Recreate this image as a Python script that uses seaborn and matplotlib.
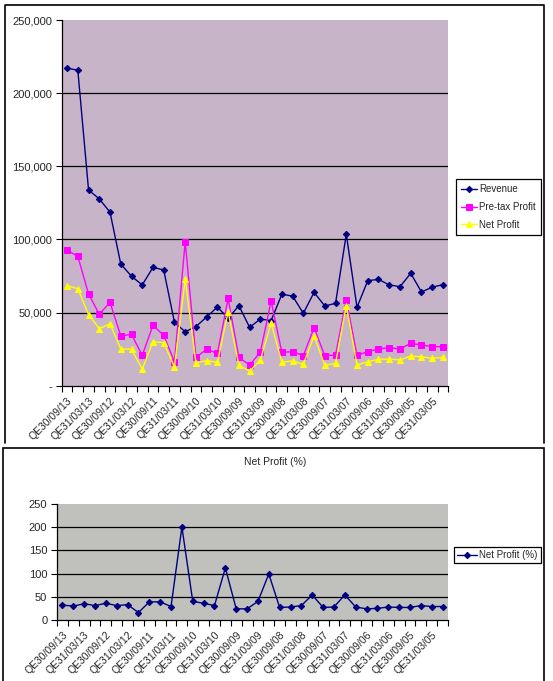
import numpy as np
import pandas as pd
import seaborn as sns
import matplotlib
matplotlib.use("Agg")
import matplotlib.pyplot as plt
from matplotlib.lines import Line2D
from matplotlib.patches import Rectangle
from matplotlib.ticker import FuncFormatter, FixedLocator

quarters = ["QE30/09/13", "QE30/06/13", "QE31/03/13",
            "QE31/12/12", "QE30/09/12", "QE30/06/12", "QE31/03/12",
            "QE31/12/11", "QE30/09/11", "QE30/06/11", "QE31/03/11",
            "QE31/12/10", "QE30/09/10", "QE30/06/10", "QE31/03/10",
            "QE31/12/09", "QE30/09/09", "QE30/06/09", "QE31/03/09",
            "QE31/12/08", "QE30/09/08", "QE30/06/08", "QE31/03/08",
            "QE31/12/07", "QE30/09/07", "QE30/06/07", "QE31/03/07",
            "QE31/12/06", "QE30/09/06", "QE30/06/06", "QE31/03/06",
            "QE31/12/05", "QE30/09/05", "QE30/06/05", "QE31/03/05",
            "QE31/12/04"]

revenue = [217000, 215700, 133800, 127700, 118600, 83200, 74800, 68900, 80900, 79100,
           43300, 36900, 40400, 47000, 53800, 46100, 54700, 39900, 45600, 44500,
           62500, 61300, 49500, 63800, 54500, 56300, 103500, 53600, 71800, 72700,
           68900, 67700, 76800, 64100, 67300, 69100]
pretax = [92600, 88500, 62700, 48800, 57000, 34000, 35100, 20700, 41300, 34400,
          16400, 98500, 19400, 24900, 22100, 59700, 19400, 14100, 23000, 57900,
          22800, 23300, 20500, 39700, 20500, 21000, 58600, 20700, 23300, 25100,
          26000, 25100, 29000, 27800, 26700, 26700]
netprofit = [68400, 66300, 48600, 39000, 42400, 25100, 24900, 11400, 30100, 29400,
             12800, 72700, 15500, 17100, 16000, 50600, 13900, 10000, 17600, 42600,
             16000, 16900, 14600, 34000, 13900, 15300, 54700, 14100, 16400, 18000,
             18200, 17600, 20300, 19800, 18700, 19400]
netpct = [32, 30, 35, 31, 36, 31, 33, 16, 39, 39,
          29, 200, 40, 36, 31, 112, 24, 24, 40, 99,
          27, 28, 31, 54, 27, 28, 54, 28, 24, 25,
          28, 27, 27, 31, 29, 29]

top_yticks = [0, 50000, 100000, 150000, 200000, 250000]
bot_yticks = [0, 50, 100, 150, 200, 250]

df = pd.DataFrame({"q": np.arange(len(quarters)), "Revenue": revenue,
                   "Pre-tax Profit": pretax, "Net Profit": netprofit,
                   "Net Profit (%)": netpct})

sns.set_style("white")
plt.rcParams["font.family"] = ["Liberation Sans", "DejaVu Sans"]
plt.rcParams["font.size"] = 7

W, H = 553, 681
fig = plt.figure(figsize=(W / 100, H / 100), dpi=100)


def fx(px):
    return px / W


def fy(py):
    return 1 - py / H


def style_axes(ax, ymax, yticks, fmt):
    n = len(quarters)
    ax.set_xlim(-0.5, n - 0.5)
    ax.set_ylim(0, ymax)
    ax.xaxis.set_major_locator(FixedLocator(np.arange(n + 1) - 0.5))
    ax.xaxis.set_minor_locator(FixedLocator(np.arange(0, n, 2)))
    ax.set_xticklabels([])
    ax.set_xticklabels(quarters[::2], minor=True, rotation=45, ha="right",
                       rotation_mode="anchor", fontsize=7.5)
    ax.tick_params(axis="x", which="major", length=4, width=0.8, color="black",
                   direction="out", bottom=True)
    ax.tick_params(axis="x", which="minor", length=0, pad=7, bottom=True)
    ax.set_yticks(yticks)
    ax.yaxis.set_major_formatter(FuncFormatter(fmt))
    ax.tick_params(axis="y", length=4, width=0.8, color="black", direction="out",
                   left=True, labelsize=8, pad=3)
    for s in ["top", "right"]:
        ax.spines[s].set_visible(False)
    for s in ["left", "bottom"]:
        ax.spines[s].set_color("black")
        ax.spines[s].set_linewidth(0.9)
    for v in yticks[1:-1]:
        ax.axhline(v, color="black", lw=0.9, zorder=1)
    ax.set_xlabel("")
    ax.set_ylabel("")


# frames
fig.add_artist(Line2D([fx(5), fx(5), fx(544), fx(544)], [fy(443), fy(5), fy(5), fy(443)],
                      color="black", lw=1.2, transform=fig.transFigure))
fig.add_artist(Rectangle((fx(3), fy(700)), fx(544) - fx(3), fy(448) - fy(700),
                         fill=False, ec="black", lw=1.2, transform=fig.transFigure))

# top chart
ax1 = fig.add_axes([fx(61.7), fy(385.7), fx(448.3) - fx(61.7), fy(20) - fy(385.7)])
ax1.set_facecolor("#c8b4c9")
series = [("Revenue", "#000080", "D", 3.2),
          ("Pre-tax Profit", "#ff00ff", "s", 4.5),
          ("Net Profit", "#ffff00", "^", 5)]
for name, col, mk, ms in series:
    sns.lineplot(data=df, x="q", y=name, ax=ax1, color=col, marker=mk, markersize=ms,
                 markeredgecolor=col, markerfacecolor=col, lw=1, label=name, zorder=3)
style_axes(ax1, 250000, top_yticks,
           lambda v, p: "-" if v == 0 else f"{int(v):,}")
ax1.legend(loc="center left", bbox_to_anchor=(fx(456), fy(207)),
           bbox_transform=fig.transFigure, fontsize=7, frameon=True,
           fancybox=False, edgecolor="black", framealpha=1, borderpad=0.5,
           handlelength=1.7, handletextpad=0.2, labelspacing=0.8, borderaxespad=0)
ax1.get_legend().get_frame().set_linewidth(0.9)

# bottom chart
ax2 = fig.add_axes([fx(57), fy(620), fx(448) - fx(57), fy(503.8) - fy(620)])
ax2.set_facecolor("#c0c0bc")
sns.lineplot(data=df, x="q", y="Net Profit (%)", ax=ax2, color="#000080", marker="D",
             markersize=3.2, markeredgecolor="#000080", lw=1, label="Net Profit (%)",
             zorder=3)
style_axes(ax2, 250, bot_yticks, lambda v, p: f"{int(v)}")
ax2.legend(loc="center left", bbox_to_anchor=(fx(454), fy(555)),
           bbox_transform=fig.transFigure, fontsize=7, frameon=True,
           fancybox=False, edgecolor="black", framealpha=1, borderpad=0.35,
           handlelength=2.0, handletextpad=0.2, borderaxespad=0)
ax2.get_legend().get_frame().set_linewidth(0.9)
fig.text(fx(275), fy(462), "Net Profit (%)", ha="center", va="center", fontsize=7.5)

fig.savefig("out.png", dpi=100, facecolor="white")
